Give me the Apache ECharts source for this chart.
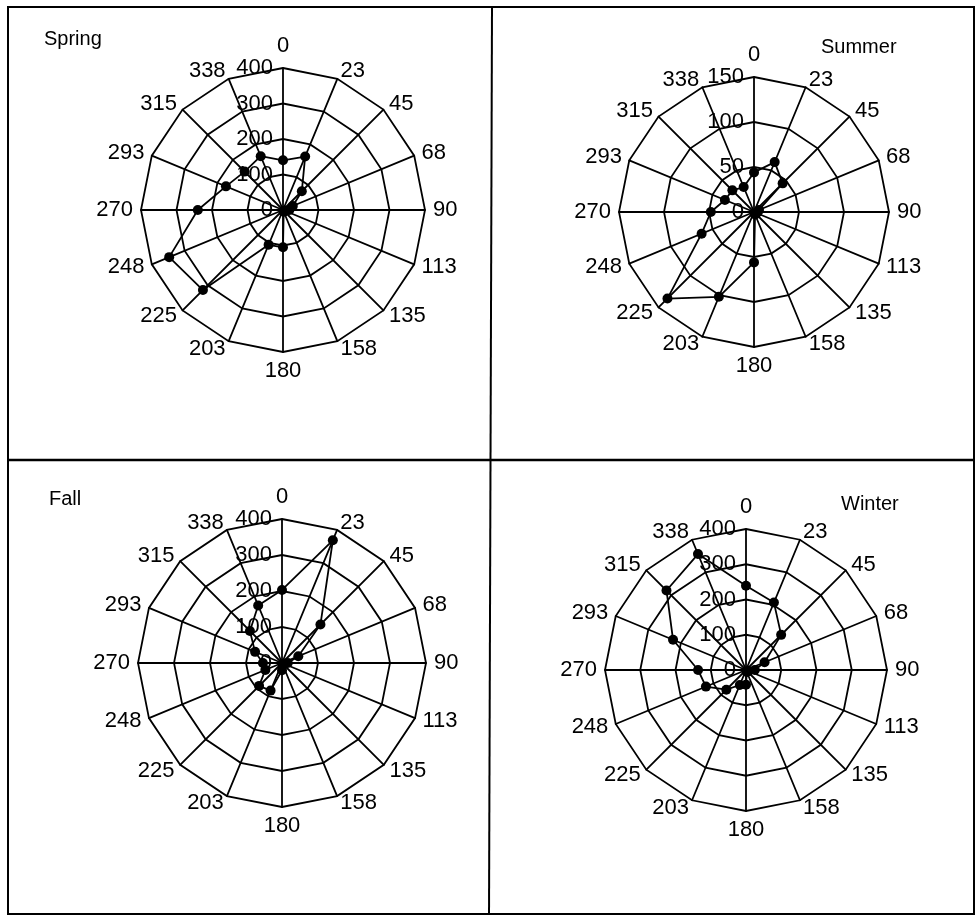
<!DOCTYPE html>
<html>
<head>
<meta charset="utf-8">
<script src="https://cdn.jsdelivr.net/npm/echarts@6/dist/echarts.min.js"></script>
<style>
html,body{margin:0;padding:0;background:#fff;}
#main{width:977px;height:918px;}
</style>
</head>
<body>
<div id="main"></div>
<script>
// Direction categories (degrees, clockwise from north)
const directions = ['0','23','45','68','90','113','135','158','180','203','225','248','270','293','315','338'];
// Radial tick labels
const ticksSpring = [0,100,200,300,400];
const ticksSummer = [0,50,100,150];
const ticksFall = [0,100,200,300,400];
const ticksWinter = [0,100,200,300,400];
// Series values, in direction order
const spring = [140,163,75,30,18,6,5,5,105,106,319,347,240,174,153,164];
const summer = [44,60,45,6,4,3,3,3,56,102,136,63,48,35,34,30];
const fall   = [203,369,151,49,16,6,5,5,20,83,90,50,53,81,126,173];
const winter = [239,207,141,57,25,8,6,6,42,46,79,123,136,224,319,356];
const titles = ['Spring','Summer','Fall','Winter'];

const FONT = 'Liberation Sans, Arial, sans-serif';
// ECharts lays indicators out counter-clockwise; reorder so they run clockwise
function cw(arr){ return [arr[0]].concat(arr.slice(1).reverse()); }

const layouts = [
  {center:[283,210], radius:142},
  {center:[754,212], radius:135},
  {center:[282,663], radius:144},
  {center:[746,670], radius:141}
];
const tickSets = [ticksSpring, ticksSummer, ticksFall, ticksWinter];
const values = [spring, summer, fall, winter];

const radars = tickSets.map(function(ticks, i){
  const max = ticks[ticks.length-1];
  const ind = cw(directions).map(function(d, k){
    const o = {name: d, min: 0, max: max};
    if (k === 0) {
      o.axisLabel = {show: true, color:'#000', fontSize: 22, fontFamily: FONT, margin: 10};
    }
    return o;
  });
  return {
    center: layouts[i].center,
    radius: layouts[i].radius,
    startAngle: 90,
    shape: 'polygon',
    splitNumber: ticks.length - 1,
    indicator: ind,
    nameGap: 8,
    axisName: {color:'#000', fontSize: 22, fontFamily: FONT},
    splitLine: {lineStyle: {color:'#000', width: 1.8}},
    splitArea: {show: false},
    axisLine: {lineStyle: {color:'#000', width: 1.8}},
    axisTick: {show: false},
    axisLabel: {show: false}
  };
});

const series = values.map(function(v, i){
  return {
    type: 'radar',
    radarIndex: i,
    symbol: 'circle',
    symbolSize: 10,
    silent: true,
    itemStyle: {color:'#000'},
    lineStyle: {color:'#000', width: 1.8},
    data: [{value: cw(v), name: titles[i]}]
  };
});

const titlePos = [
  {left: 39, top: 24},
  {left: 816, top: 32},
  {left: 44, top: 484},
  {left: 836, top: 489}
];

const option = {
  backgroundColor: '#fff',
  animation: false,
  title: titles.map(function(t, i){
    return {text: t, left: titlePos[i].left, top: titlePos[i].top,
      textStyle: {color:'#000', fontSize: 20, fontWeight: 'normal', fontFamily: FONT}};
  }),
  radar: radars,
  series: series,
  graphic: [
    {type:'rect', shape:{x:8, y:7, width:966, height:907}, style:{fill:null, stroke:'#000', lineWidth:2}, silent:true},
    {type:'line', shape:{x1:492, y1:7, x2:489, y2:914}, style:{stroke:'#000', lineWidth:2}, silent:true},
    {type:'line', shape:{x1:8, y1:460, x2:974, y2:460}, style:{stroke:'#000', lineWidth:2.5}, silent:true}
  ]
};
const chart = echarts.init(document.getElementById('main'), null, {renderer:'canvas'});
chart.setOption(option);
</script>
</body>
</html>
